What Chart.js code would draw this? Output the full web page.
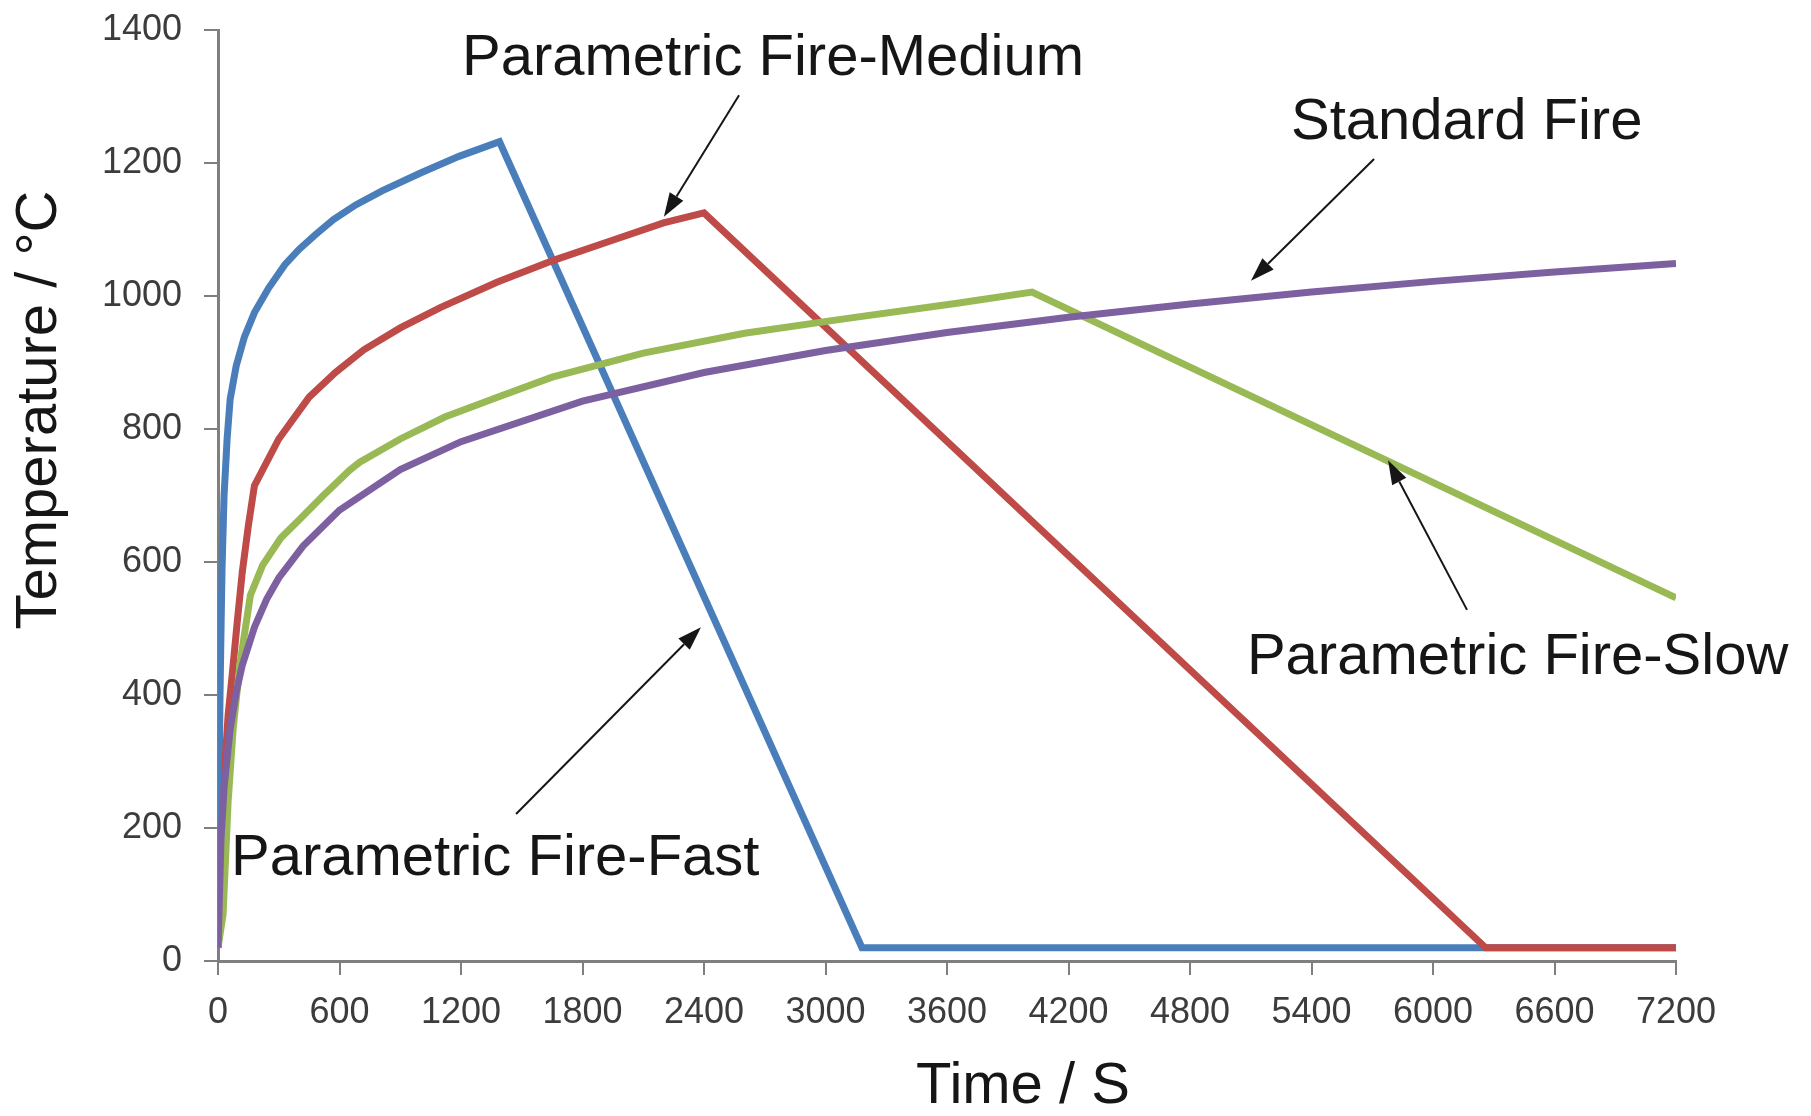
<!DOCTYPE html>
<html>
<head>
<meta charset="utf-8">
<title>Fire curves</title>
<script src="https://cdn.jsdelivr.net/npm/chart.js@4/dist/chart.umd.min.js"></script>
<style>
    html, body { margin: 0; padding: 0; background: #ffffff; }
    canvas { display: block; }
</style>
</head>
<body>
<canvas id="fireChart" width="1811" height="1116"></canvas>
<script>
// -------------------------------
// Data (time in s, temperature in °C)
// -------------------------------
const fastTime = [0, 5, 10, 15, 20, 30, 45, 60, 90, 130, 180, 250, 330, 400, 480, 570, 680, 810, 1000, 1190, 1390, 3180, 7200];
const fastTemp = [20, 260, 400, 500, 590, 700, 785, 845, 895, 938, 975, 1012, 1047, 1070, 1092, 1115, 1137, 1158, 1185, 1210, 1232, 20, 20];

const mediumTime = [0, 10, 20, 35, 50, 70, 95, 120, 150, 180, 300, 450, 580, 720, 900, 1100, 1380, 1660, 1930, 2200, 2400, 6260, 7200];
const mediumTemp = [20, 60, 130, 300, 370, 430, 510, 585, 655, 715, 785, 848, 885, 919, 952, 983, 1021, 1054, 1082, 1110, 1125, 20, 20];

const slowTime = [0, 25, 50, 75, 110, 160, 220, 310, 400, 520, 650, 700, 900, 1120, 1400, 1650, 2100, 2600, 3100, 3650, 4020, 7200];
const slowTemp = [20, 70, 240, 350, 450, 550, 595, 636, 663, 700, 738, 750, 785, 818, 850, 878, 914, 944, 966, 989, 1006, 546];

const standardTime = [0, 15, 30, 60, 90, 120, 180, 240, 300, 420, 600, 900, 1200, 1800, 2400, 3000, 3600, 4200, 4800, 5400, 6000, 6600, 7200];
const standardTemp = [20, 185, 261, 349, 404, 445, 502, 544, 576, 624, 678, 739, 781, 842, 885, 918, 945, 968, 988, 1006, 1022, 1036, 1049];

// tick values
const xTicks = [0, 600, 1200, 1800, 2400, 3000, 3600, 4200, 4800, 5400, 6000, 6600, 7200];
const yTicks = [0, 200, 400, 600, 800, 1000, 1200, 1400];

// axis titles
const xTitle = "Time / S";
const yTitle = "Temperature / °C";

// text labels and arrows, given in data units
const labelText = ["Parametric Fire-Medium", "Standard Fire", "Parametric Fire-Slow", "Parametric Fire-Fast"];
const labelX = [1205, 5299, 5081, 64];
const labelY = [1357, 1260, 455, 153];
const arrowFromX = [2573, 5709, 6168, 1472];
const arrowFromY = [1302, 1206, 528, 221];
const arrowToX = [2202, 5101, 5778, 2385];
const arrowToY = [1119, 1023, 753, 502];

function toPoints(times, temps) {
    return times.map((t, i) => ({ x: t, y: temps[i] }));
}

const textFont = "58px 'Liberation Sans', Arial, sans-serif";

// -------------------------------
// Text labels with arrows, and the two axis titles
// -------------------------------
const annotationPlugin = {
    id: "annotations",
    afterDraw(chart) {
        const ctx = chart.ctx;
        const xs = chart.scales.x;
        const ys = chart.scales.y;
        ctx.save();
        ctx.fillStyle = "#161616";
        ctx.strokeStyle = "#161616";
        ctx.font = textFont;
        ctx.textAlign = "left";
        ctx.textBaseline = "middle";
        labelText.forEach((txt, i) => {
            ctx.fillText(txt, xs.getPixelForValue(labelX[i]), ys.getPixelForValue(labelY[i]));
        });

        ctx.lineWidth = 2;
        arrowFromX.forEach((fx, i) => {
            const x1 = xs.getPixelForValue(fx), y1 = ys.getPixelForValue(arrowFromY[i]);
            const x2 = xs.getPixelForValue(arrowToX[i]), y2 = ys.getPixelForValue(arrowToY[i]);
            const a = Math.atan2(y2 - y1, x2 - x1);
            const head = 24, half = 8;
            const bx = x2 - head * Math.cos(a), by = y2 - head * Math.sin(a);
            ctx.beginPath();
            ctx.moveTo(x1, y1);
            ctx.lineTo(bx, by);
            ctx.stroke();
            ctx.beginPath();
            ctx.moveTo(x2, y2);
            ctx.lineTo(bx + half * Math.sin(a), by - half * Math.cos(a));
            ctx.lineTo(bx - half * Math.sin(a), by + half * Math.cos(a));
            ctx.closePath();
            ctx.fill();
        });

        // axis titles (not centred on the axes in the original)
        ctx.textAlign = "center";
        ctx.fillText(xTitle, 1023, 1087);
        ctx.translate(40, 410);
        ctx.rotate(-Math.PI / 2);
        ctx.fillText(yTitle, 0, 0);
        ctx.restore();
    }
};

function makeDataset(label, times, temps, color) {
    return {
        label: label,
        data: toPoints(times, temps),
        borderColor: color,
        backgroundColor: color,
        borderWidth: 7,
        pointRadius: 0,
        tension: 0,
        fill: false
    };
}

// -------------------------------
// Set up the chart
// -------------------------------
const axisColor = "#7f7f7f";
const tickFont = { family: "'Liberation Sans', Arial, sans-serif", size: 36, lineHeight: 1.2 };

const ctx = document.getElementById("fireChart").getContext("2d");
const fireChart = new Chart(ctx, {
    type: "line",
    data: {
        // first dataset is drawn on top
        datasets: [
            makeDataset("Standard Fire", standardTime, standardTemp, "#7D60A0"),
            makeDataset("Parametric Fire-Slow", slowTime, slowTemp, "#98B954"),
            makeDataset("Parametric Fire-Medium", mediumTime, mediumTemp, "#BE4B48"),
            makeDataset("Parametric Fire-Fast", fastTime, fastTemp, "#4A7EBB")
        ]
    },
    options: {
        responsive: false,
        animation: false,
        devicePixelRatio: 1,
        layout: { padding: { left: 0, right: 135, top: 30, bottom: 0 } },
        plugins: {
            legend: { display: false },
            tooltip: { enabled: false }
        },
        scales: {
            x: {
                type: "linear",
                min: 0,
                max: 7200,
                afterBuildTicks: axis => { axis.ticks = xTicks.map(v => ({ value: v })); },
                afterFit: axis => {
                    axis.height = 155;
                    axis.paddingLeft = 0;
                    axis.paddingRight = 0;
                },
                border: { display: true, color: axisColor, width: 3 },
                grid: { drawOnChartArea: false, color: axisColor, lineWidth: 2, tickLength: 14 },
                ticks: {
                    color: "#3c3c3c", font: tickFont, padding: 16, maxRotation: 0, autoSkip: false,
                    callback: v => String(v)
                }
            },
            y: {
                type: "linear",
                min: 0,
                max: 1400,
                afterBuildTicks: axis => { axis.ticks = yTicks.map(v => ({ value: v })); },
                afterFit: axis => {
                    axis.width = 218;
                    axis.paddingTop = 0;
                    axis.paddingBottom = 0;
                },
                border: { display: true, color: axisColor, width: 3 },
                grid: { drawOnChartArea: false, color: axisColor, lineWidth: 2, tickLength: 14 },
                ticks: { color: "#3c3c3c", font: tickFont, padding: 22, callback: v => String(v) }
            }
        }
    },
    plugins: [annotationPlugin]
});
</script>
</body>
</html>
